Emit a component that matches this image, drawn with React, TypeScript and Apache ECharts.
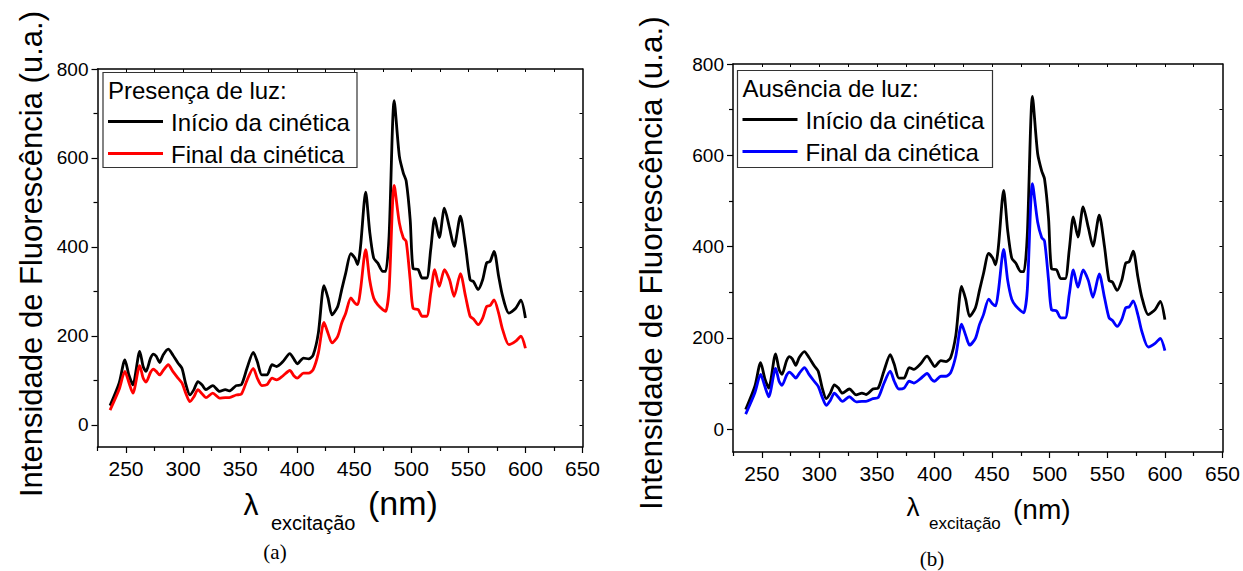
import React, { useEffect, useRef } from "react";
import * as echarts from "echarts";

// Wavelengths (nm) shared by all spectra
const wavelengths = [236, 244, 249, 252.5, 256, 262, 265, 267.5, 271.5, 274, 276.5, 279.5, 282.5, 287, 291, 295.5, 299, 302.5, 306, 309.5, 313, 316.5, 320, 326, 332, 337, 340.5, 346.5, 351, 356, 361.5, 365, 369, 373.5, 378, 382, 387.5, 393.5, 397.5, 400, 405.5, 410, 414, 418.5, 423.5, 427, 430.5, 435.5, 439, 442.5, 447, 450.5, 453, 455.5, 460, 463.5, 467, 470.5, 475, 477.5, 480.5, 485, 489.5, 493, 495.5, 499, 501.5, 506, 509.5, 513.5, 517, 520.5, 524.5, 529, 533.5, 537.5, 543, 547.5, 551.5, 554.5, 558.5, 562.5, 566, 569, 572.5, 576.5, 580, 585.5, 591.5, 596, 600];

// Início da cinética (black) – identical in both panels
const inicio = [43, 94, 146, 112, 90, 165, 131, 120, 150, 159, 154, 140, 157, 170, 157, 139, 127, 90, 67, 79, 97, 90, 79, 88, 75, 79, 76, 88, 90, 127, 163, 142, 112, 112, 135, 131, 142, 160, 146, 137, 150, 148, 157, 206, 313, 285, 247, 266, 304, 341, 385, 375, 360, 401, 523, 435, 375, 364, 345, 345, 424, 729, 604, 566, 548, 461, 352, 349, 330, 330, 394, 465, 421, 487, 442, 401, 469, 401, 326, 322, 304, 326, 364, 367, 390, 334, 289, 251, 262, 280, 240];

// Final da cinética, presença de luz (red)
const finalLuz = [33, 80, 120, 95, 71, 133, 105, 96, 118, 125, 120, 112, 122, 135, 120, 105, 94, 70, 52, 63, 79, 70, 61, 71, 60, 61, 61, 67, 69, 100, 127, 105, 88, 90, 105, 101, 110, 122, 109, 105, 116, 116, 124, 161, 230, 206, 184, 199, 229, 251, 285, 274, 270, 304, 394, 326, 285, 270, 259, 255, 304, 538, 454, 420, 412, 326, 262, 259, 244, 244, 296, 349, 311, 349, 326, 289, 340, 289, 244, 238, 225, 240, 266, 268, 281, 251, 214, 180, 188, 199, 172];

// Final da cinética, ausência de luz (blue)
const finalEscuro = [33, 80, 120, 95, 71, 133, 105, 96, 118, 125, 120, 112, 122, 135, 120, 105, 94, 70, 52, 63, 79, 70, 61, 71, 60, 61, 61, 67, 69, 100, 127, 105, 88, 90, 105, 101, 110, 122, 109, 105, 116, 116, 124, 161, 230, 206, 184, 199, 229, 251, 285, 274, 270, 304, 394, 326, 285, 270, 259, 255, 304, 538, 454, 420, 412, 326, 262, 259, 244, 244, 296, 349, 311, 349, 326, 289, 340, 289, 244, 238, 225, 240, 266, 268, 281, 251, 214, 180, 188, 199, 172];

const xMajorTicks = [250, 300, 350, 400, 450, 500, 550, 600, 650];
const xMinorTicks = [225, 275, 325, 375, 425, 475, 525, 575, 625];
const xTopTicks = [250, 275, 300, 325, 350, 375, 400, 425, 450, 475, 500, 525, 550, 575, 600, 625];
const yMajorTicks = [0, 200, 400, 600, 800];
const yMinorTicks = [100, 300, 500, 700];
const yRightTicks = [0, 100, 200, 300, 400, 500, 600, 700];

const legendTitles = ["Presença de luz:", "Ausência de luz:"];
const seriesNames = ["Início da cinética", "Final da cinética"];
const yTitle = "Intensidade de Fluorescência (u.a.)";

const FONT = "'Liberation Sans', Arial, Helvetica, sans-serif";

function pairs(xs: number[], ys: number[]) {
  return xs.map((x, i) => [x, ys[i]]);
}

export default function App() {
  const ref = useRef<HTMLDivElement>(null);
  useEffect(() => {
    if (!ref.current) return;
    const chart = echarts.init(ref.current, null, { renderer: "svg" });

    const grids = [
      { left: 97.5, top: 69, width: 485, height: 378 },
      { left: 733, top: 64, width: 490, height: 388 },
    ];

    const xAxes: any[] = [];
    const yAxes: any[] = [];
    const lineStyle = { color: "#000", width: 1.5 };
    grids.forEach((_, g) => {
      xAxes.push({
        type: "value", gridIndex: g, min: 225, max: 650, position: "bottom",
        axisLine: { show: true, onZero: false, lineStyle },
        axisTick: { show: true, inside: false, length: 6, customValues: xMajorTicks, lineStyle: { color: "#000", width: 1.2 } },
        axisLabel: { show: true, customValues: xMajorTicks, fontSize: 21, color: "#000", fontFamily: FONT, margin: 11 },
        splitLine: { show: false },
      });
      xAxes.push({
        type: "value", gridIndex: g, min: 225, max: 650, position: "bottom",
        axisLine: { show: false, onZero: false },
        axisTick: { show: true, inside: false, length: 4, customValues: xMinorTicks, lineStyle: { color: "#000", width: 1.2 } },
        axisLabel: { show: false },
        splitLine: { show: false },
      });
      xAxes.push({
        type: "value", gridIndex: g, min: 225, max: 650, position: "top",
        axisLine: { show: true, onZero: false, lineStyle },
        axisTick: { show: true, inside: true, length: 3, customValues: xTopTicks, lineStyle: { color: "#000", width: 1 } },
        axisLabel: { show: false },
        splitLine: { show: false },
      });
      yAxes.push({
        type: "value", gridIndex: g, min: -50, max: 800, position: "left",
        axisLine: { show: true, onZero: false, lineStyle },
        axisTick: { show: true, inside: false, length: 6, customValues: yMajorTicks, lineStyle: { color: "#000", width: 1.2 } },
        axisLabel: { show: true, customValues: yMajorTicks, fontSize: 19, color: "#000", fontFamily: FONT, margin: 9 },
        splitLine: { show: false },
      });
      yAxes.push({
        type: "value", gridIndex: g, min: -50, max: 800, position: "left",
        axisLine: { show: false, onZero: false },
        axisTick: { show: true, inside: false, length: 4, customValues: yMinorTicks, lineStyle: { color: "#000", width: 1.2 } },
        axisLabel: { show: false },
        splitLine: { show: false },
      });
      yAxes.push({
        type: "value", gridIndex: g, min: -50, max: 800, position: "right",
        axisLine: { show: true, onZero: false, lineStyle },
        axisTick: { show: true, inside: true, length: 3, customValues: yRightTicks, lineStyle: { color: "#000", width: 1 } },
        axisLabel: { show: false },
        splitLine: { show: false },
      });
    });

    const mk = (name: string, ys: number[], color: string, g: number) => ({
      name, type: "line", xAxisIndex: g * 3, yAxisIndex: g * 3,
      data: pairs(wavelengths, ys), showSymbol: false, smooth: 0.25,
      lineStyle: { color, width: 2.8 }, itemStyle: { color }, z: 3,
    });

    const legend = (x: number, y: number, w: number, h: number, title: string, color2: string) => [
      { type: "rect", shape: { x, y, width: w, height: h }, style: { fill: "#fff", stroke: "#333", lineWidth: 1.2 }, z: 10 },
      { type: "text", x: x + 5, y: y + 18, style: { text: title, font: `24px ${FONT}`, fill: "#000", verticalAlign: "middle" }, z: 11 },
      { type: "line", shape: { x1: x + 5, y1: y + 49, x2: x + 60, y2: y + 49 }, style: { stroke: "#000", lineWidth: 3 }, z: 11 },
      { type: "text", x: x + 68, y: y + 50, style: { text: seriesNames[0], font: `24px ${FONT}`, fill: "#000", verticalAlign: "middle" }, z: 11 },
      { type: "line", shape: { x1: x + 5, y1: y + 81, x2: x + 60, y2: y + 81 }, style: { stroke: color2, lineWidth: 3 }, z: 11 },
      { type: "text", x: x + 68, y: y + 82, style: { text: seriesNames[1], font: `24px ${FONT}`, fill: "#000", verticalAlign: "middle" }, z: 11 },
    ];

    const graphic: any[] = [
      ...legend(103, 72.5, 254, 95, legendTitles[0], "#ff0000"),
      ...legend(737.5, 70.5, 255, 97, legendTitles[1], "#0000ff"),
      { type: "text", x: 31, y: 497, rotation: Math.PI / 2, style: { text: yTitle, font: `31px ${FONT}`, fill: "#000", align: "left", verticalAlign: "middle" } },
      { type: "text", x: 651, y: 510, rotation: Math.PI / 2, style: { text: yTitle, font: `31.5px ${FONT}`, fill: "#000", align: "left", verticalAlign: "middle" } },
      { type: "text", x: 251, y: 504, style: { text: "λ", font: `30px ${FONT}`, fill: "#000", align: "center", verticalAlign: "middle" } },
      { type: "text", x: 271, y: 523, style: { text: "excitação", font: `20px ${FONT}`, fill: "#000", align: "left", verticalAlign: "middle" } },
      { type: "text", x: 368, y: 503, style: { text: "(nm)", font: `34px ${FONT}`, fill: "#000", align: "left", verticalAlign: "middle" } },
      { type: "text", x: 275, y: 552, style: { text: "(a)", font: `21px 'Liberation Serif', 'Times New Roman', serif`, fill: "#000", align: "center", verticalAlign: "middle" } },
      { type: "text", x: 913, y: 507, style: { text: "λ", font: `26px ${FONT}`, fill: "#000", align: "center", verticalAlign: "middle" } },
      { type: "text", x: 929, y: 523, style: { text: "excitação", font: `17px ${FONT}`, fill: "#000", align: "left", verticalAlign: "middle" } },
      { type: "text", x: 1013, y: 509, style: { text: "(nm)", font: `28px ${FONT}`, fill: "#000", align: "left", verticalAlign: "middle" } },
      { type: "text", x: 932, y: 559, style: { text: "(b)", font: `21px 'Liberation Serif', 'Times New Roman', serif`, fill: "#000", align: "center", verticalAlign: "middle" } },
    ];

    chart.setOption({
      animation: false,
      backgroundColor: "#fff",
      grid: grids.map((g) => ({ ...g, containLabel: false })),
      xAxis: xAxes,
      yAxis: yAxes,
      series: [
        mk(seriesNames[0], inicio, "#000000", 0),
        mk(seriesNames[1], finalLuz, "#ff0000", 0),
        mk(seriesNames[0], inicio, "#000000", 1),
        mk(seriesNames[1], finalEscuro, "#0000ff", 1),
      ],
      graphic,
    });
    return () => chart.dispose();
  }, []);
  return <div ref={ref} style={{ position: "absolute", left: 0, top: 0, width: 1243, height: 571, background: "#fff" }} />;
}
